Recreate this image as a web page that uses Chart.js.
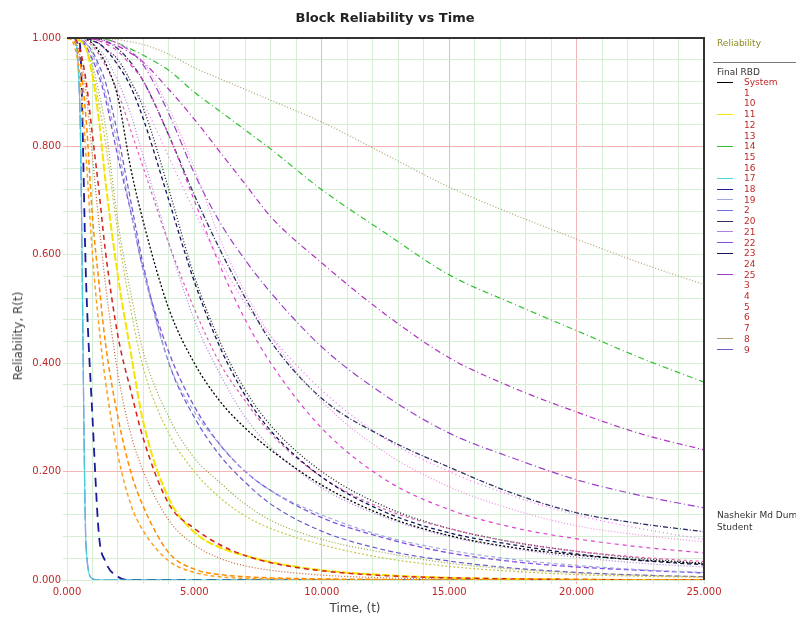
<!DOCTYPE html>
<html>
<head>
<meta charset="utf-8">
<script src="https://cdn.jsdelivr.net/npm/chart.js@4.4.1/dist/chart.umd.min.js"></script>
<style>
  body { margin: 0; background: #fff; font-family: "DejaVu Sans", Verdana, sans-serif; }
  #wrap { position: relative; width: 796px; height: 625px; overflow: hidden; }
  .txt { position: absolute; white-space: nowrap; }
  #mainTitle { left: 385px; top: 17px; font-size: 13px; font-weight: bold; color: #222; transform: translate(-50%, -50%); }
  #yTitle { left: 18px; top: 336px; font-size: 12px; color: #444; transform: translate(-50%, -50%) rotate(-90deg); }
  #xTitle { left: 355px; top: 608px; font-size: 12px; color: #444; transform: translate(-50%, -50%); }
  .legLine { position: absolute; left: 717px; width: 16px; height: 0; border-top: 1.5px solid; }
  .legLabel { position: absolute; left: 744px; font-size: 9px; line-height: 10px; color: #c02828; }
</style>
</head>
<body>
<div id="wrap">
  <canvas id="rbdChart" width="796" height="625"></canvas>
  <div class="txt" id="mainTitle">Block Reliability vs Time</div>
  <div class="txt" id="yTitle">Reliability, R(t)</div>
  <div class="txt" id="xTitle">Time, (t)</div>
  <div id="legendBox"></div>
</div>
<script>
const canvas = document.getElementById('rbdChart');
const legendBox = document.getElementById('legendBox');

// time points (hours) shared by every curve
const timeValues = [0, 250, 500, 750, 1000, 1250, 1500, 2000, 2500, 3000, 4000, 5000, 6000, 7000, 8000, 10000, 12500, 15000, 17500, 20000, 22500, 25000];

const seriesNames = ['System', '1', '10', '11', '12', '13', '14', '15', '16', '17', '18', '19', '2', '20', '21', '22', '23', '24', '25', '3', '4', '5', '6', '7', '8', '9'];

const rSystem = [1, 1, 1, 0.998, 0.99, 0.975, 0.955, 0.89, 0.76, 0.66, 0.5, 0.4, 0.33, 0.28, 0.24, 0.175, 0.118, 0.082, 0.06, 0.046, 0.037, 0.03];
const r1  = [1, 0.995, 0.96, 0.85, 0.67, 0.55, 0.44, 0.3, 0.2, 0.135, 0.05, 0.02, 0.01, 0.006, 0.004, 0.002, 0.001, 0, 0, 0, 0, 0];
const r10 = [1, 1, 0.98, 0.92, 0.82, 0.72, 0.61, 0.45, 0.35, 0.26, 0.14, 0.095, 0.065, 0.045, 0.032, 0.017, 0.008, 0.004, 0.002, 0.001, 0, 0];
const r11 = [1, 1, 0.995, 0.98, 0.93, 0.85, 0.74, 0.56, 0.42, 0.29, 0.15, 0.088, 0.06, 0.045, 0.033, 0.018, 0.009, 0.004, 0.002, 0.001, 0, 0];
const r12 = [1, 1, 1, 1, 0.998, 0.995, 0.99, 0.975, 0.95, 0.92, 0.82, 0.7, 0.58, 0.48, 0.4, 0.28, 0.185, 0.13, 0.097, 0.076, 0.061, 0.05];
const r13 = [1, 1, 1, 1, 1, 0.998, 0.996, 0.99, 0.975, 0.955, 0.87, 0.76, 0.63, 0.53, 0.45, 0.33, 0.235, 0.172, 0.13, 0.1, 0.083, 0.07];
const r14 = [1, 1, 1, 1, 1, 0.999, 0.998, 0.99, 0.98, 0.968, 0.94, 0.9, 0.865, 0.83, 0.795, 0.72, 0.64, 0.563, 0.51, 0.46, 0.41, 0.365];
const r15 = [1, 0.99, 0.93, 0.78, 0.6, 0.47, 0.37, 0.23, 0.14, 0.09, 0.035, 0.014, 0.006, 0.003, 0.002, 0.001, 0, 0, 0, 0, 0, 0];
const r16 = [1, 1, 1, 1, 0.998, 0.996, 0.993, 0.985, 0.972, 0.955, 0.905, 0.85, 0.79, 0.73, 0.67, 0.585, 0.49, 0.41, 0.355, 0.31, 0.27, 0.24];
const r17 = [1, 1, 0.88, 0.06, 0.002, 0, 0, 0, 0, 0, 0, 0, 0, 0, 0, 0, 0, 0, 0, 0, 0, 0];
const r18 = [1, 1, 0.99, 0.55, 0.3, 0.085, 0.035, 0.006, 0, 0, 0, 0, 0, 0, 0, 0, 0, 0, 0, 0, 0, 0];
const r19 = [1, 1, 0.998, 0.99, 0.97, 0.94, 0.9, 0.8, 0.68, 0.57, 0.4, 0.31, 0.25, 0.2, 0.165, 0.12, 0.08, 0.055, 0.038, 0.027, 0.019, 0.014];
const r2  = [1, 1, 0.88, 0.06, 0.002, 0, 0, 0, 0, 0, 0, 0, 0, 0, 0, 0, 0, 0, 0, 0, 0, 0];
const r20 = [1, 1, 1, 1, 1, 0.998, 0.995, 0.98, 0.955, 0.92, 0.82, 0.71, 0.61, 0.52, 0.44, 0.335, 0.262, 0.208, 0.16, 0.124, 0.104, 0.089];
const r21 = [1, 1, 1, 0.998, 0.99, 0.98, 0.965, 0.92, 0.86, 0.78, 0.62, 0.48, 0.38, 0.3, 0.245, 0.17, 0.115, 0.08, 0.058, 0.042, 0.031, 0.024];
const r22 = [1, 1, 0.995, 0.985, 0.96, 0.93, 0.89, 0.78, 0.68, 0.57, 0.42, 0.32, 0.25, 0.2, 0.165, 0.115, 0.077, 0.05, 0.034, 0.024, 0.018, 0.013];
const r23 = [1, 1, 1, 1, 0.995, 0.99, 0.98, 0.95, 0.91, 0.85, 0.7, 0.55, 0.43, 0.34, 0.275, 0.19, 0.125, 0.087, 0.065, 0.048, 0.036, 0.028];
const r24 = [1, 1, 1, 0.995, 0.985, 0.97, 0.95, 0.9, 0.83, 0.76, 0.62, 0.5, 0.4, 0.33, 0.27, 0.19, 0.13, 0.095, 0.07, 0.053, 0.042, 0.034];
const r25 = [1, 1, 1, 1, 1, 0.999, 0.998, 0.99, 0.975, 0.95, 0.86, 0.75, 0.66, 0.59, 0.53, 0.43, 0.34, 0.271, 0.225, 0.185, 0.156, 0.133];
const r3  = [1, 1, 0.995, 0.98, 0.95, 0.9, 0.84, 0.66, 0.53, 0.42, 0.3, 0.225, 0.18, 0.14, 0.11, 0.075, 0.05, 0.031, 0.02, 0.013, 0.009, 0.006];
const r4  = [1, 1, 0.995, 0.98, 0.94, 0.88, 0.81, 0.64, 0.5, 0.39, 0.27, 0.2, 0.152, 0.118, 0.095, 0.065, 0.04, 0.025, 0.016, 0.01, 0.007, 0.005];
const r5  = [1, 1, 1, 1, 0.995, 0.99, 0.98, 0.96, 0.92, 0.88, 0.78, 0.68, 0.59, 0.51, 0.45, 0.35, 0.26, 0.2, 0.155, 0.12, 0.095, 0.075];
const r6  = [1, 1, 0.97, 0.9, 0.78, 0.66, 0.55, 0.38, 0.27, 0.2, 0.11, 0.065, 0.04, 0.026, 0.018, 0.009, 0.004, 0.002, 0.001, 0, 0, 0];
const r7  = [1, 1, 1, 1, 0.995, 0.99, 0.98, 0.96, 0.92, 0.87, 0.72, 0.56, 0.44, 0.35, 0.285, 0.2, 0.135, 0.095, 0.07, 0.053, 0.04, 0.031];
const r8  = [1, 1, 1, 1, 1, 1, 0.999, 0.997, 0.993, 0.988, 0.97, 0.945, 0.925, 0.905, 0.885, 0.845, 0.785, 0.725, 0.675, 0.629, 0.585, 0.545];
const r9  = [1, 1, 0.998, 0.99, 0.975, 0.95, 0.92, 0.82, 0.7, 0.58, 0.4, 0.3, 0.23, 0.18, 0.14, 0.09, 0.055, 0.035, 0.022, 0.014, 0.009, 0.006];

const seriesValues = [rSystem, r1, r10, r11, r12, r13, r14, r15, r16, r17, r18, r19, r2, r20, r21, r22, r23, r24, r25, r3, r4, r5, r6, r7, r8, r9];

// line styles: colour, dash, width, whether the legend shows a sample
const lineStyles = [
    ['#000000', [2, 2], 1.3, true],
    ['#ff8c00', [5, 3], 1.5, false],
    ['#d42020', [5, 4], 1.5, false],
    ['#f5e400', [8, 2], 2, true],
    ['#e040d0', [4, 4], 1.2, false],
    ['#f090e0', [1, 2], 1.2, false],
    ['#30c030', [6, 3, 1, 3], 1.2, true],
    ['#ffa020', [4, 3], 1.5, false],
    ['#b030c0', [6, 3, 1, 3], 1.2, false],
    ['#40d8d8', [], 1, true],
    ['#1a1a9a', [9, 6], 1.8, true],
    ['#a0a8e0', [4, 3], 1.2, true],
    ['#7070e0', [14, 3], 1.3, true],
    ['#303068', [5, 2, 1, 2], 1.3, true],
    ['#b080e0', [1, 2], 1.2, true],
    ['#8050e0', [5, 3], 1.3, true],
    ['#14145a', [4, 3], 1.3, true],
    ['#e060b0', [3, 3], 1.2, false],
    ['#9a40c8', [7, 3, 1, 3], 1.2, true],
    ['#a0a040', [1, 2], 1.2, false],
    ['#c8c850', [2, 2], 1.2, false],
    ['#f070f0', [1, 3], 1.2, false],
    ['#c86030', [1, 2], 1.2, false],
    ['#202020', [1, 2], 1.3, false],
    ['#b0a070', [1, 2], 1.2, true],
    ['#6a5acd', [5, 3], 1.2, true]
];

const datasets = seriesNames.map((name, i) => ({
    label: name,
    data: timeValues.map((t, j) => ({ x: t, y: seriesValues[i][j] })),
    borderColor: lineStyles[i][0],
    borderDash: lineStyles[i][1],
    borderWidth: lineStyles[i][2],
    pointRadius: 0,
    fill: false,
    cubicInterpolationMode: 'monotone'
}));

const frameLines = {
    id: 'frameLines',
    afterDraw(chart) {
        const { ctx, chartArea: a } = chart;
        ctx.save();
        ctx.strokeStyle = '#333';
        ctx.lineWidth = 2;
        ctx.beginPath();
        ctx.moveTo(a.left, a.top);
        ctx.lineTo(a.right, a.top);
        ctx.lineTo(a.right, a.bottom);
        ctx.stroke();
        ctx.restore();
    }
};

const redGridX = [10000, 15000, 20000];
const redGridY = [20, 80];

new Chart(canvas.getContext('2d'), {
    type: 'line',
    data: { datasets: datasets },
    plugins: [frameLines],
    options: {
        responsive: false,
        animation: false,
        layout: { padding: { left: 0, right: 92, top: 38, bottom: 0 } },
        plugins: {
            legend: { display: false },
            tooltip: { enabled: false }
        },
        scales: {
            x: {
                type: 'linear',
                min: 0,
                max: 25000,
                afterFit: scale => { scale.height = 45; },
                border: { display: false },
                grid: {
                    tickLength: 4,
                    color: c => redGridX.includes(c.tick.value) ? '#f2b4b4' : '#d6edd6'
                },
                ticks: {
                    stepSize: 1000,
                    autoSkip: false,
                    maxRotation: 0,
                    padding: 2,
                    color: '#c02828',
                    font: { family: 'DejaVu Sans', size: 10 },
                    callback: v => v % 5000 === 0 ? (v === 0 ? '0.000' : (v / 1000) + '.000') : ''
                }
            },
            y: {
                min: 0,
                max: 1,
                afterFit: scale => { scale.width = 67; },
                border: { display: false },
                grid: {
                    tickLength: 4,
                    color: c => redGridY.includes(Math.round(c.tick.value * 100)) ? '#f2b4b4' : '#d6edd6'
                },
                ticks: {
                    stepSize: 0.04,
                    autoSkip: false,
                    padding: 2,
                    color: '#c02828',
                    font: { family: 'DejaVu Sans', size: 10 },
                    callback: v => Math.round(v * 100) % 20 === 0 ? v.toFixed(3) : ''
                }
            }
        }
    }
});

// legend on the right, built from the same names and styles
function addText(text, left, top, color, size) {
    const d = document.createElement('div');
    d.className = 'txt';
    d.style.left = left + 'px';
    d.style.top = top + 'px';
    d.style.color = color;
    d.style.fontSize = size + 'px';
    d.textContent = text;
    legendBox.appendChild(d);
}

addText('Reliability', 717, 38, '#8a8a20', 9);
const rule = document.createElement('div');
rule.style.cssText = 'position:absolute;left:713px;top:62px;width:83px;height:0;border-top:1px solid #777;';
legendBox.appendChild(rule);
addText('Final RBD', 717, 67, '#333', 9);

seriesNames.forEach((name, i) => {
    const rowY = 82 + i * 10.7;
    if (lineStyles[i][3]) {
        const line = document.createElement('div');
        line.className = 'legLine';
        line.style.top = (rowY - 0.5) + 'px';
        line.style.borderTopColor = lineStyles[i][0];
        legendBox.appendChild(line);
    }
    const lab = document.createElement('div');
    lab.className = 'legLabel';
    lab.style.top = (rowY - 5) + 'px';
    lab.textContent = name;
    legendBox.appendChild(lab);
});

addText('Nashekir Md Dum', 717, 510, '#333', 9);
addText('Student', 717, 522, '#333', 9);
</script>
</body>
</html>
